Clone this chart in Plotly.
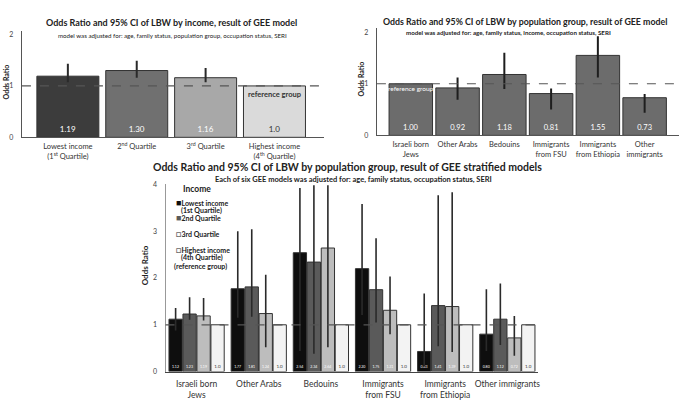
import plotly.graph_objects as go

# ---------------- data ----------------
# Chart A: by income
inc_cats = ["Lowest income<br>(1<sup>st</sup> Quartile)", "2<sup>nd</sup> Quartile",
            "3<sup>rd</sup> Quartile", "Highest income<br>(4<sup>th</sup> Quartile)"]
inc_or = [1.19, 1.30, 1.16, 1.0]
inc_lo = [1.07, 1.16, 1.07, 1.0]
inc_hi = [1.43, 1.49, 1.35, 1.0]
inc_labels = ["1.19", "1.30", "1.16", "1.0"]

# Chart B: by population group
pop_cats = ["Israeli born<br>Jews", "Other Arabs", "Bedouins", "Immigrants<br>from FSU",
            "Immigrants<br>from Ethiopia", "Other<br>immigrants"]
pop_or = [1.00, 0.92, 1.18, 0.81, 1.55, 0.73]
pop_lo = [1.00, 0.69, 0.90, 0.50, 1.12, 0.44]
pop_hi = [1.00, 1.12, 1.60, 0.91, 1.92, 0.80]
pop_labels = ["1.00", "0.92", "1.18", "0.81", "1.55", "0.73"]

# Chart C: stratified models
str_cats = ["Israeli born<br>Jews", "Other Arabs", "Bedouins", "Immigrants<br>from FSU",
            "Immigrants<br>from Ethiopia", "Other immigrants"]
q_names = ["Lowest income (1st Quartile)", "2nd Quartile", "3rd Quartile",
           "Highest income (4th Quartile) (reference group)"]
q1_or = [1.12, 1.77, 2.54, 2.20, 0.43, 0.80]
q1_lo = [0.88, 1.15, 0.44, 1.21, 0.11, 0.44]
q1_hi = [1.36, 3.00, 3.92, 3.58, 1.67, 1.76]
q2_or = [1.23, 1.81, 2.34, 1.75, 1.41, 1.12]
q2_lo = [1.11, 1.17, 0.38, 1.05, 0.54, 0.57]
q2_hi = [1.59, 3.04, 3.98, 2.85, 3.77, 1.88]
q3_or = [1.19, 1.24, 2.64, 1.31, 1.39, 0.72]
q3_lo = [1.09, 0.52, 0.52, 0.80, 0.42, 0.34]
q3_hi = [1.57, 2.07, 3.98, 2.03, 3.83, 1.19]
q4_or = [1.0, 1.0, 1.0, 1.0, 1.0, 1.0]
q1_labels = ["1.12", "1.77", "2.54", "2.20", "0.43", "0.80"]
q2_labels = ["1.23", "1.81", "2.34", "1.75", "1.41", "1.12"]
q3_labels = ["1.19", "1.24", "2.64", "1.31", "1.39", "0.72"]
q4_labels = ["1.0"] * 6

FONT = "Lato"
W, H = 685, 404


def px_x(p):
    return p / W


def px_y(p):
    return 1 - p / H


def err(vals, lo, hi):
    return dict(type="data", symmetric=False,
                array=[h - v for v, h in zip(vals, hi)],
                arrayminus=[v - l for v, l in zip(vals, lo)])


fig = go.Figure()

# ---- Chart A ----
eA = err(inc_or, inc_lo, inc_hi)
fig.add_trace(go.Bar(
    x=inc_cats, y=inc_or, xaxis="x", yaxis="y", width=0.9,
    marker=dict(color=["#3c3c3c", "#707070", "#a8a8a8", "#dadada"],
                line=dict(color="#333", width=1)),
    error_y=dict(**eA, color="#2a2a2a", thickness=2, width=0),
    text=inc_labels, textposition="inside", insidetextanchor="start", textangle=0,
    textfont=dict(size=8, family=FONT, color=["white", "white", "white", "#333"]),
    showlegend=False, hoverinfo="skip"))

# ---- Chart B ----
eB = err(pop_or, pop_lo, pop_hi)
eB["array"][0] = 0
eB["arrayminus"][0] = 0
fig.add_trace(go.Bar(
    x=pop_cats, y=pop_or, xaxis="x2", yaxis="y2", width=0.93,
    marker=dict(color="#6c6c6c", line=dict(color="#333", width=1)),
    error_y=dict(**eB, color="#1e1e1e", thickness=2, width=0),
    text=pop_labels, textposition="inside", insidetextanchor="start", textangle=0,
    textfont=dict(size=7.5, family=FONT, color="white"),
    showlegend=False, hoverinfo="skip"))

# ---- Chart C ----
series = [
    (q1_or, q1_lo, q1_hi, q1_labels, "#0e0e0e", "white"),
    (q2_or, q2_lo, q2_hi, q2_labels, "#5a5a5a", "white"),
    (q3_or, q3_lo, q3_hi, q3_labels, "#bdbdbd", "white"),
    (q4_or, None, None, q4_labels, "#f3f3f3", "#333"),
]
for name, (v, lo, hi, lab, col, tcol) in zip(q_names, series):
    kw = {}
    if lo is not None:
        kw["error_y"] = dict(**err(v, lo, hi), color="#2a2a2a", thickness=1.6, width=0)
    fig.add_trace(go.Bar(
        x=str_cats, y=v, name=name, xaxis="x3", yaxis="y3",
        marker=dict(color=col, line=dict(color="#333", width=1)),
        text=lab, textposition="inside", insidetextanchor="start", textangle=0,
        textfont=dict(size=4.5, family=FONT, color=tcol),
        showlegend=False, hoverinfo="skip", cliponaxis=True, **kw))

axis_common = dict(showgrid=False, zeroline=False, showline=True, linewidth=1.2,
                   ticks="", tickfont=dict(family=FONT, size=7, color="#444"))
fig.update_layout(
    width=W, height=H, margin=dict(l=0, r=0, t=0, b=0),
    paper_bgcolor="white", plot_bgcolor="white",
    barmode="group", bargap=0.1, bargroupgap=0.05,
    font=dict(family=FONT, color="#222"),
    xaxis=dict(**{**axis_common, "tickfont": dict(family=FONT, size=7.5, color="#333")},
               domain=[px_x(22), px_x(325)], anchor="y", type="category",
               range=[-0.667, 3.72], linecolor="#555", ticklabelstandoff=2, tickangle=0),
    yaxis=dict(**axis_common, domain=[px_y(135), px_y(27)], anchor="x",
               range=[0, 2.06], tickvals=[0, 1, 2], linecolor="#555",
               ticklabelstandoff=6),
    xaxis2=dict(**{**axis_common, "tickfont": dict(family=FONT, size=7.5, color="#333")},
                domain=[px_x(378), px_x(681)], anchor="y2", type="category",
                range=[-0.725, 5.735], linecolor="#555", ticklabelstandoff=2, tickangle=0),
    yaxis2=dict(**axis_common, domain=[px_y(133), px_y(23)], anchor="x2",
                range=[0, 2.09], tickvals=[0, 1, 2], linecolor="#555",
                ticklabelstandoff=6),
    xaxis3=dict(**{**axis_common, "tickfont": dict(family=FONT, size=8.5, color="#333")},
                domain=[px_x(166), px_x(540)], anchor="y3", type="category",
                range=[-0.5, 5.5], linecolor="#444", ticklabelstandoff=4, tickangle=0),
    yaxis3=dict(**axis_common, domain=[px_y(374), px_y(183)], anchor="x3",
                range=[0, 4.0], tickvals=[0, 1, 2, 3, 4], linecolor="#999",
                ticklabelstandoff=6),
)

# reference lines at OR = 1
for xa, ya, x1 in [("x", "y", 1), ("x2", "y2", 1), ("x3", "y3", 0.995)]:
    fig.add_shape(type="line", xref=f"{xa} domain", yref=ya, x0=0, x1=x1, y0=1, y1=1,
                  line=dict(color="#555", width=1.2, dash="dash"), layer="above")

ann = []


def text(x, y, s, size, bold=False, color="#222", angle=0, xanchor="center"):
    ann.append(dict(x=px_x(x), y=px_y(y), xref="paper", yref="paper",
                    text=f"<b>{s}</b>" if bold else s, showarrow=False,
                    font=dict(family=FONT, size=size, color=color),
                    textangle=angle, xanchor=xanchor, yanchor="middle"))


# titles
text(172, 18, "Odds Ratio and 95% CI of LBW by income, result of GEE model", 9, True)
text(173, 31, "model was adjusted for: age, family status, population group, occupation status, SERI", 6.2)
text(527, 17, "Odds Ratio and 95% CI of LBW by population group, result of GEE model", 8.8, True)
text(510, 28, "model was adjusted for: age, family status, income, occupation status, SERI", 6.2, True)
text(349, 165, "Odds Ratio and 95% CI of LBW by population group, result of GEE stratified models", 10.5, True)
text(355, 178, "Each of six GEE models was adjusted for: age, family status, occupation status, SERI", 7.5, True)

# y-axis titles
text(6, 78, "Odds Ratio", 7, True, angle=-90)
text(362, 75, "Odds Ratio", 7, True, angle=-90)
text(145, 266, "Odds Ratio", 8, True, angle=-90)

# reference-group notes inside bars
ann.append(dict(x=3, y=0.84, xref="x", yref="y", text="<b>reference group</b>",
                showarrow=False, font=dict(family=FONT, size=7.5, color="#333")))
ann.append(dict(x=0, y=0.9, xref="x2", yref="y2", text="reference group",
                showarrow=False, font=dict(family=FONT, size=6.5, color="white")))

# legend of chart C
text(182, 188, "Income", 8.5, True, xanchor="left")
leg = [
    (201, "#0e0e0e", "■", "Lowest income"),
    (210, None, "", "(1st Quartile)"),
    (217, "#5a5a5a", "■", "2nd Quartile"),
    (233, "#666", "□", "3rd Quartile"),
    (249, "#666", "□", "Highest income"),
    (258, None, "", "(4th Quartile)"),
    (267, None, "", "(reference group)"),
]
for y, col, sym, lab in leg:
    if sym:
        text(175, y, f"<span style='color:{col};font-size:9px'>{sym}</span>{lab}", 7, True,
             xanchor="left")
    else:
        xx = 173 if "reference" in lab else 180
        text(xx, y, lab, 7, True, xanchor="left")

fig.update_layout(annotations=ann)
fig.write_html("out.html", config={"displayModeBar": False},
               post_script="document.body.style.margin='0px';document.body.style.overflow='hidden';")
